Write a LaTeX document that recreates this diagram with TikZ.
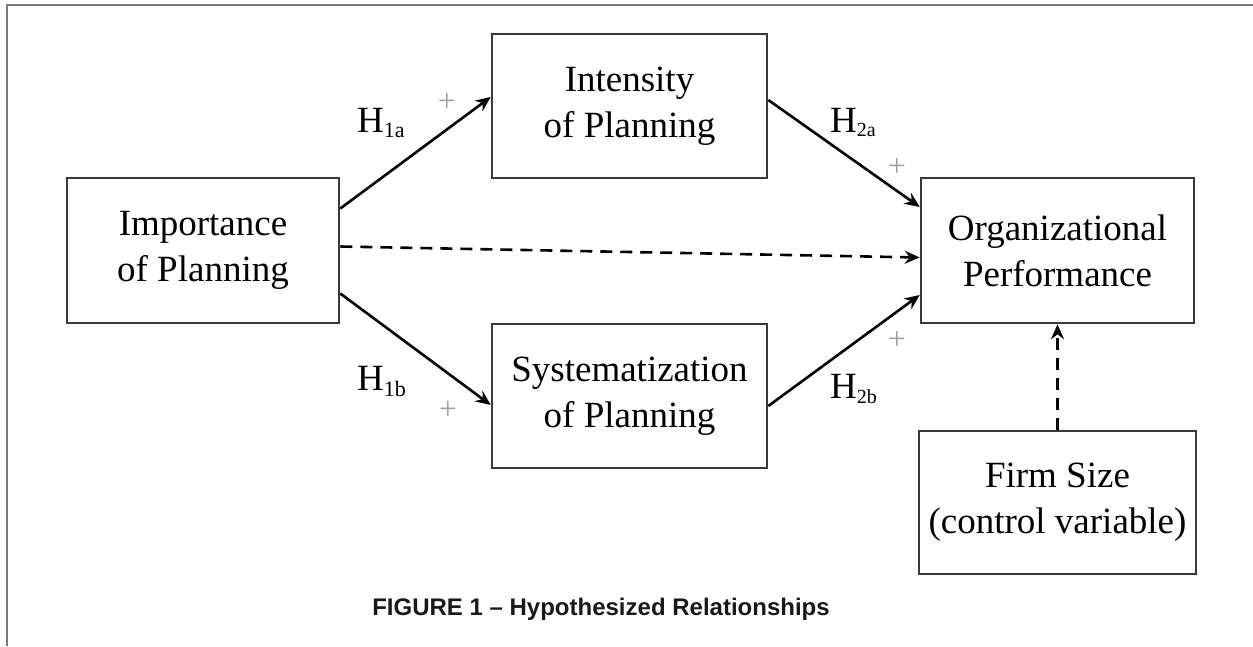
\documentclass[tikz,border=0pt]{standalone}
\usepackage{fontspec}
\setmainfont{Liberation Serif}
\setsansfont{Liberation Sans}
\usetikzlibrary{arrows.meta}
\definecolor{framecol}{HTML}{7A7A7A}
\definecolor{boxcol}{HTML}{3A3A3A}
\definecolor{pluscol}{HTML}{A0A0A0}
\tikzset{
  varbox/.style={draw=boxcol, line width=2.6pt, align=center, inner sep=0pt,
    font=\fontsize{37}{46}\selectfont, text=black},
  arr/.style={-{Stealth[length=15pt,width=13pt,inset=5pt]}, line width=2.6pt, black},
  darr/.style={arr, dash pattern=on 12pt off 8pt},
  hlab/.style={anchor=base west, inner sep=0pt, font=\fontsize{37}{40}\selectfont},
  plus/.style={inner sep=0pt, text=pluscol, font=\fontsize{32}{34}\selectfont},
}
\begin{document}
\begin{tikzpicture}[x=1pt,y=-1pt]
\useasboundingbox (0,0) rectangle (1253,646);
\draw[framecol, line width=2.4pt] (7,646) -- (7,5) -- (1253,5);

\node[varbox, minimum width=272pt, minimum height=145pt] (imp) at (203,250.5) {Importance\\of Planning};
\node[varbox, minimum width=275pt, minimum height=144pt] (int) at (629.5,106) {Intensity\\of Planning};
\node[varbox, minimum width=275pt, minimum height=144pt] (sys) at (629.5,396) {Systematization\\of Planning};
\node[varbox, minimum width=273pt, minimum height=145pt] (org) at (1057.5,250.5) {Organizational\\Performance};
\node[varbox, minimum width=277pt, minimum height=143pt] (firm) at (1057.5,502.5) {Firm Size\\(control variable)};

\draw[arr] ([yshift=42pt]imp.east) -- ([yshift=9pt]int.west);
\draw[arr] ([yshift=-43pt]imp.east) -- ([yshift=-9pt]sys.west);
\draw[darr] ([yshift=4pt]imp.east) -- ([yshift=-7pt]org.west);
\draw[arr] ([yshift=6pt]int.east) -- ([yshift=43.5pt]org.west);
\draw[arr] ([yshift=-10pt]sys.east) -- ([yshift=-44.5pt]org.west);
\draw[darr] (firm.north) -- (org.south);

\node[hlab] (h1a) at (357,132) {H\textsubscript{\fontsize{22}{24}\selectfont 1a}};
\node[hlab] (h1b) at (357,390) {H\textsubscript{\fontsize{22}{24}\selectfont 1b}};
\node[hlab] (h2a) at (830,132) {H\textsubscript{\fontsize{20}{22}\selectfont 2a}};
\node[hlab] (h2b) at (830,398) {H\textsubscript{\fontsize{20}{22}\selectfont 2b}};

\node[plus] (p1) at (447,102) {+};
\node[plus] (p2) at (448,410) {+};
\node[plus] (p3) at (897,167) {+};
\node[plus] (p4) at (897,340) {+};

\node[inner sep=0pt, font=\fontsize{24}{28}\selectfont\sffamily\bfseries, text=black!90] (cap) at (601,609) {FIGURE 1 – Hypothesized Relationships};
\end{tikzpicture}
\end{document}
